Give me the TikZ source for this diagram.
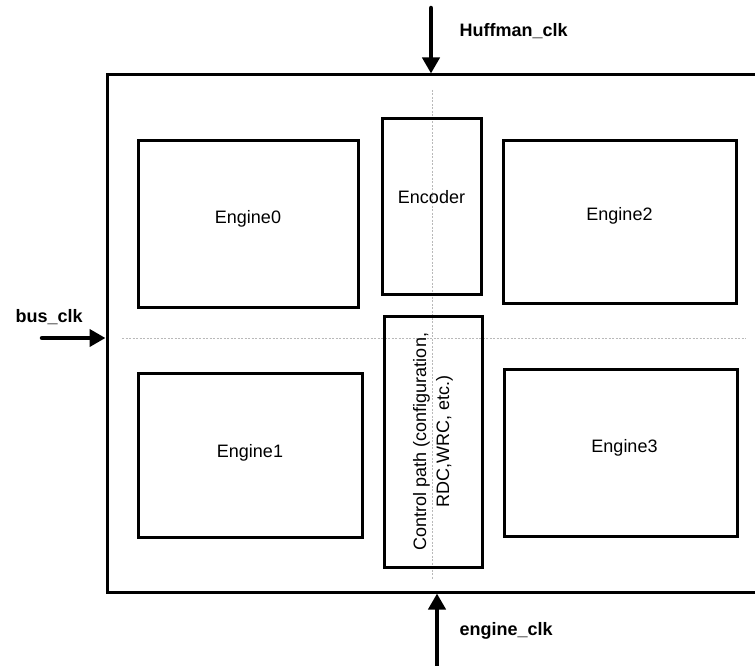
\documentclass[tikz,border=0pt]{standalone}
\usepackage{fontspec}
\setmainfont{Liberation Sans}
\usetikzlibrary{arrows.meta}
\begin{document}
\begin{tikzpicture}[x=1pt, y=-1pt, font=\fontsize{18}{23}\selectfont,
		blk/.style={draw, line width=3pt, inner sep=0pt},
		guide/.style={gray!55, line width=0.5pt, dash pattern=on 2pt off 1.5pt},
		clk/.style={line width=4.5pt, line cap=round, -{Triangle[length=16pt, width=17pt]}},
		clklbl/.style={anchor=base west, font=\fontsize{18}{23}\selectfont\bfseries}]
				\clip (0,0) rectangle (755,666);
				\node[draw, line width=3pt, minimum width=720, minimum height=517] (chip) at (467,333.5) {};
				\draw[guide] (432,90) -- (432,580);
				\draw[guide] (122,338) -- (746,338);
				\node[blk, minimum width=220, minimum height=166, label={[yshift=5pt]center:Engine0}] (eng0) at (248,224) {};
				\node[blk, minimum width=224, minimum height=164, label={[yshift=2pt]center:Engine1}] (eng1) at (250,455) {};
				\node[blk, minimum width=233, minimum height=162, label={[yshift=6pt]center:Engine2}] (eng2) at (619.5,222) {};
				\node[blk, minimum width=233, minimum height=167, label={[xshift=4pt, yshift=5pt]center:Engine3}] (eng3) at (620.5,452.5) {};
				\node[blk, minimum width=99, minimum height=175, label={[yshift=9pt]center:Encoder}] (enc) at (431.5,206.5) {};
				\node[blk, rotate=90, minimum width=251, minimum height=98, align=center] (ctrl) at (433,441.5)
					{Control path (configuration,\\RDC,WRC, etc.)};
				% clock inputs
				\coordinate (huff) at (431,8);
				\coordinate (busin) at (42,338);
				\coordinate (engin) at (437,670);
				\draw[clk] (huff) -- (huff |- chip.north);
				\draw[clk] (busin) -- (busin -| chip.west);
				\draw[clk] (engin) -- (engin |- chip.south);
				\node[clklbl] (hufflbl) at (456,37) {Huffman\_clk};
				\node[clklbl] (buslbl) at (12,322) {bus\_clk};
				\node[clklbl] (englbl) at (456,635) {engine\_clk};
\end{tikzpicture}
\end{document}
